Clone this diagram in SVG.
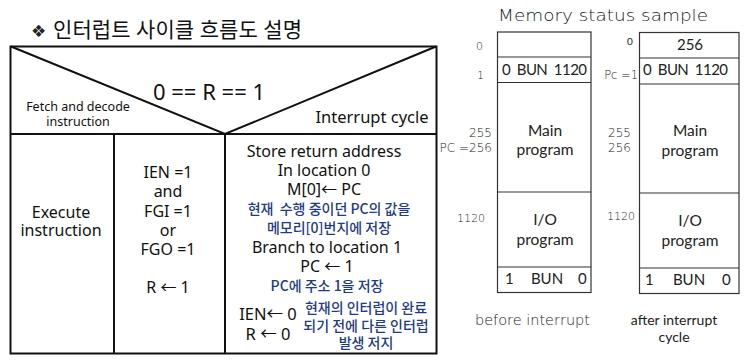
<svg xmlns="http://www.w3.org/2000/svg" width="749" height="361" viewBox="0 0 749 361">
<style>
.ln{fill:none;stroke:#111;stroke-width:2}
.mb{fill:#fff;stroke:#333;stroke-width:1.2}
.k{font-family:"Noto Sans","Noto Sans CJK KR",sans-serif;fill:#111;text-anchor:middle}
.b{font-family:"Noto Sans CJK KR","Noto Sans",sans-serif;fill:#1f3a86;text-anchor:middle;font-size:14px;font-weight:500}
.m{font-family:"Lato","Open Sans",sans-serif;fill:#222}
.g{font-family:"DejaVu Sans",sans-serif;fill:#222;font-weight:300}
</style>
<rect width="749" height="361" fill="#fff"/>
<g id="title">
<text x="31" y="37" font-family="DejaVu Sans,sans-serif" font-size="17" fill="#222">❖</text>
<text x="53" y="37" class="k" style="text-anchor:start" font-size="21" textLength="249">인터럽트 사이클 흐름도 설명</text>
</g>
<g id="connectors">
<rect x="10.5" y="46.5" width="426" height="307" class="ln"/>
<line x1="10.5" y1="134" x2="436.5" y2="134" class="ln"/>
<polyline points="11,46.5 225,134 436,46.5" class="ln"/>
<line x1="114" y1="134" x2="114" y2="353.5" class="ln"/>
<line x1="225" y1="134" x2="225" y2="353.5" class="ln"/>
</g>
<g id="header">
<text x="209" y="100" class="k" font-size="22">0  == R == 1</text>
<text x="78" y="111" class="k" font-size="12.5">Fetch and decode</text>
<text x="78" y="126" class="k" font-size="12.5">instruction</text>
<text x="372" y="123" class="k" font-size="16.5">Interrupt cycle</text>
</g>
<g id="execute">
<text x="61" y="218" class="k" font-size="16">Execute</text>
<text x="61" y="236" class="k" font-size="16">instruction</text>
</g>
<g id="condition" class="k" font-size="16">
<text x="168" y="178">IEN =1</text>
<text x="168" y="197">and</text>
<text x="168" y="217">FGI =1</text>
<text x="168" y="236">or</text>
<text x="168" y="255">FGO =1</text>
<text x="168" y="293">R ← 1</text>
</g>
<g id="interrupt">
<text x="324" y="157" class="k" font-size="16">Store return address</text>
<text x="324" y="176" class="k" font-size="16">In location 0</text>
<text x="324" y="195" class="k" font-size="16">M[0]← PC</text>
<text x="329" y="214" class="b" xml:space="preserve">현재  수행 중이던 PC의 값을</text>
<text x="329" y="233" class="b">메모리[0]번지에 저장</text>
<text x="327" y="253" class="k" font-size="16">Branch to location 1</text>
<text x="327" y="272" class="k" font-size="16">PC ← 1</text>
<text x="327" y="291" class="b">PC에 주소 1을 저장</text>
<text x="268" y="320" class="k" font-size="16.5">IEN← 0</text>
<text x="268" y="340" class="k" font-size="16.5">R ← 0</text>
<text x="366" y="313" class="b">현재의 인터럽이 완료</text>
<text x="366" y="331" class="b">되기 전에 다른 인터럽</text>
<text x="366" y="348" class="b">발생 저지</text>
</g>
<text x="498" y="21" class="g" font-size="15" textLength="210" lengthAdjust="spacingAndGlyphs">Memory status sample</text>
<g id="mem-before">
<rect x="497.5" y="32" width="93.5" height="260.5" class="mb"/>
<line x1="497.5" y1="57" x2="591" y2="57" class="mb"/>
<line x1="497.5" y1="82.5" x2="591" y2="82.5" class="mb"/>
<line x1="497.5" y1="192" x2="591" y2="192" class="mb"/>
<line x1="497.5" y1="267" x2="591" y2="267" class="mb"/>
<text x="502" y="75" class="m" font-size="15" xml:space="preserve" textLength="85">0  BUN  1120</text>
<text x="545" y="136" class="m" font-size="15.5" text-anchor="middle">Main</text>
<text x="545" y="155" class="m" font-size="15.5" text-anchor="middle">program</text>
<text x="545" y="225" class="m" font-size="15.5" text-anchor="middle">I/O</text>
<text x="545" y="245" class="m" font-size="15.5" text-anchor="middle">program</text>
<text x="505" y="284" class="m" font-size="15">1</text>
<text x="547" y="284" class="m" font-size="15" text-anchor="middle">BUN</text>
<text x="578" y="284" class="m" font-size="15">0</text>
<text x="476" y="50" class="g" font-size="11">0</text>
<text x="477" y="79" class="g" font-size="11">1</text>
<text x="492" y="137" class="g" font-size="12" text-anchor="end">255</text>
<text x="492" y="152" class="g" font-size="12" text-anchor="end">PC =256</text>
<text x="485" y="222" class="g" font-size="11" text-anchor="end">1120</text>
<text x="475" y="325" class="g" font-size="13.5" textLength="115" lengthAdjust="spacingAndGlyphs">before interrupt</text>
</g>
<g id="mem-after">
<rect x="639.5" y="32.5" width="99.5" height="261" class="mb"/>
<line x1="639.5" y1="58" x2="739" y2="58" class="mb"/>
<line x1="639.5" y1="84" x2="739" y2="84" class="mb"/>
<line x1="639.5" y1="193" x2="739" y2="193" class="mb"/>
<line x1="639.5" y1="268" x2="739" y2="268" class="mb"/>
<text x="690" y="50" class="m" font-size="15" text-anchor="middle">256</text>
<text x="643" y="75" class="m" font-size="15" xml:space="preserve" textLength="85">0  BUN  1120</text>
<text x="690" y="136" class="m" font-size="15.5" text-anchor="middle">Main</text>
<text x="690" y="156" class="m" font-size="15.5" text-anchor="middle">program</text>
<text x="690" y="226" class="m" font-size="15.5" text-anchor="middle">I/O</text>
<text x="690" y="246" class="m" font-size="15.5" text-anchor="middle">program</text>
<text x="645" y="285" class="m" font-size="15">1</text>
<text x="689" y="285" class="m" font-size="15" text-anchor="middle">BUN</text>
<text x="722" y="285" class="m" font-size="15">0</text>
<text x="627" y="45" class="m" font-size="10">0</text>
<text x="638" y="79" class="g" font-size="11.5" text-anchor="end">Pc =1</text>
<text x="608" y="137" class="g" font-size="12">255</text>
<text x="608" y="152" class="g" font-size="12">256</text>
<text x="607" y="220" class="g" font-size="11">1120</text>
<text x="674" y="325" class="m" font-size="14" text-anchor="middle">after interrupt</text>
<text x="674" y="342" class="m" font-size="14" text-anchor="middle">cycle</text>
</g>
</svg>
